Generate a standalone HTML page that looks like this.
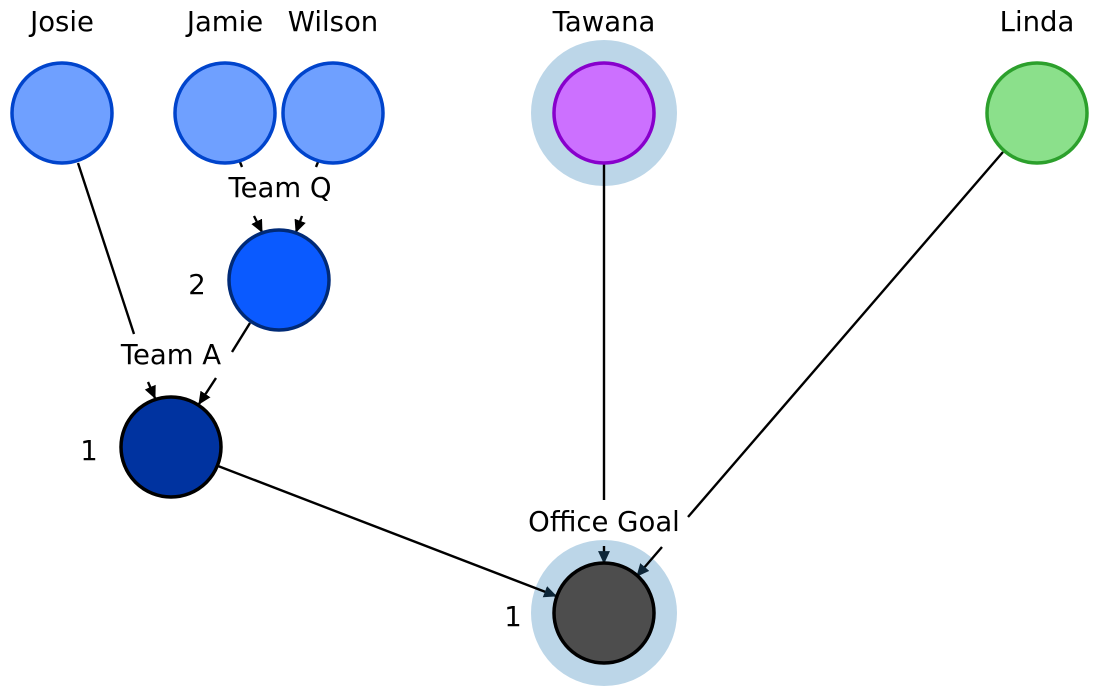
<!DOCTYPE html>
<html><head><meta charset="utf-8"><style>
html,body{margin:0;padding:0;background:#fff}
svg{display:block}
text{font-family:"DejaVu Sans","Liberation Sans",sans-serif;font-size:27.5px;fill:#000}
</style></head><body>
<svg width="1100" height="697" viewBox="0 0 1100 697" xmlns="http://www.w3.org/2000/svg">
<defs>
<marker id="b" viewBox="0 0 12 12" refX="11" refY="6" markerWidth="13" markerHeight="13" orient="auto" markerUnits="userSpaceOnUse"><path d="M0,0.5 L12,6 L0,11.5 z" fill="#000"/></marker>
<marker id="n" viewBox="0 0 12 12" refX="11" refY="6" markerWidth="13" markerHeight="13" orient="auto" markerUnits="userSpaceOnUse"><path d="M0,0.5 L12,6 L0,11.5 z" fill="#0d2638"/></marker>
</defs>
<circle cx="604" cy="113" r="73" fill="#bcd6e8"/>
<circle cx="604" cy="613" r="73" fill="#bcd6e8"/>
<g stroke="#000" stroke-width="2.4" fill="none">
<line x1="240" y1="162" x2="242" y2="167"/>
<line x1="254" y1="216" x2="262" y2="232" marker-end="url(#b)"/>
<line x1="318" y1="162" x2="316" y2="167"/>
<line x1="302" y1="216" x2="296" y2="232" marker-end="url(#b)"/>
<line x1="78" y1="163" x2="134" y2="334"/>
<line x1="148" y1="382" x2="155" y2="398" marker-end="url(#b)"/>
<line x1="250" y1="323" x2="232" y2="352"/>
<line x1="216" y1="378" x2="199" y2="404" marker-end="url(#b)"/>
<line x1="218" y1="466" x2="556" y2="596" marker-end="url(#n)"/>
<line x1="604" y1="163" x2="604" y2="500"/>
<line x1="604" y1="546" x2="604" y2="563" marker-end="url(#n)"/>
<line x1="1003" y1="152" x2="688" y2="517"/>
<line x1="662" y1="547" x2="637" y2="576" marker-end="url(#n)"/>
</g>
<g stroke-width="3.5">
<circle cx="62" cy="113" r="50" fill="#6fa0ff" stroke="#0044cc"/>
<circle cx="225" cy="113" r="50" fill="#6fa0ff" stroke="#0044cc"/>
<circle cx="333" cy="113" r="50" fill="#6fa0ff" stroke="#0044cc"/>
<circle cx="604" cy="113" r="50" fill="#cc70ff" stroke="#8800cc"/>
<circle cx="1037" cy="113" r="50" fill="#8be08b" stroke="#2ca02c"/>
<circle cx="279" cy="280" r="50" fill="#0a5aff" stroke="#002a77"/>
<circle cx="171" cy="447" r="50" fill="#0033a0" stroke="#000"/>
<circle cx="604" cy="613" r="50" fill="#4d4d4d" stroke="#000"/>
</g>
<g text-anchor="middle">
<text x="62" y="31">Josie</text>
<text x="225" y="31">Jamie</text>
<text x="333" y="31">Wilson</text>
<text x="604" y="31">Tawana</text>
<text x="1037" y="31">Linda</text>
<text x="280" y="197">Team Q</text>
<text x="171" y="364">Team A</text>
<text x="604" y="531">Office Goal</text>
<text x="197" y="294">2</text>
<text x="89" y="460">1</text>
<text x="513" y="626">1</text>
</g>
</svg>
</body></html>
